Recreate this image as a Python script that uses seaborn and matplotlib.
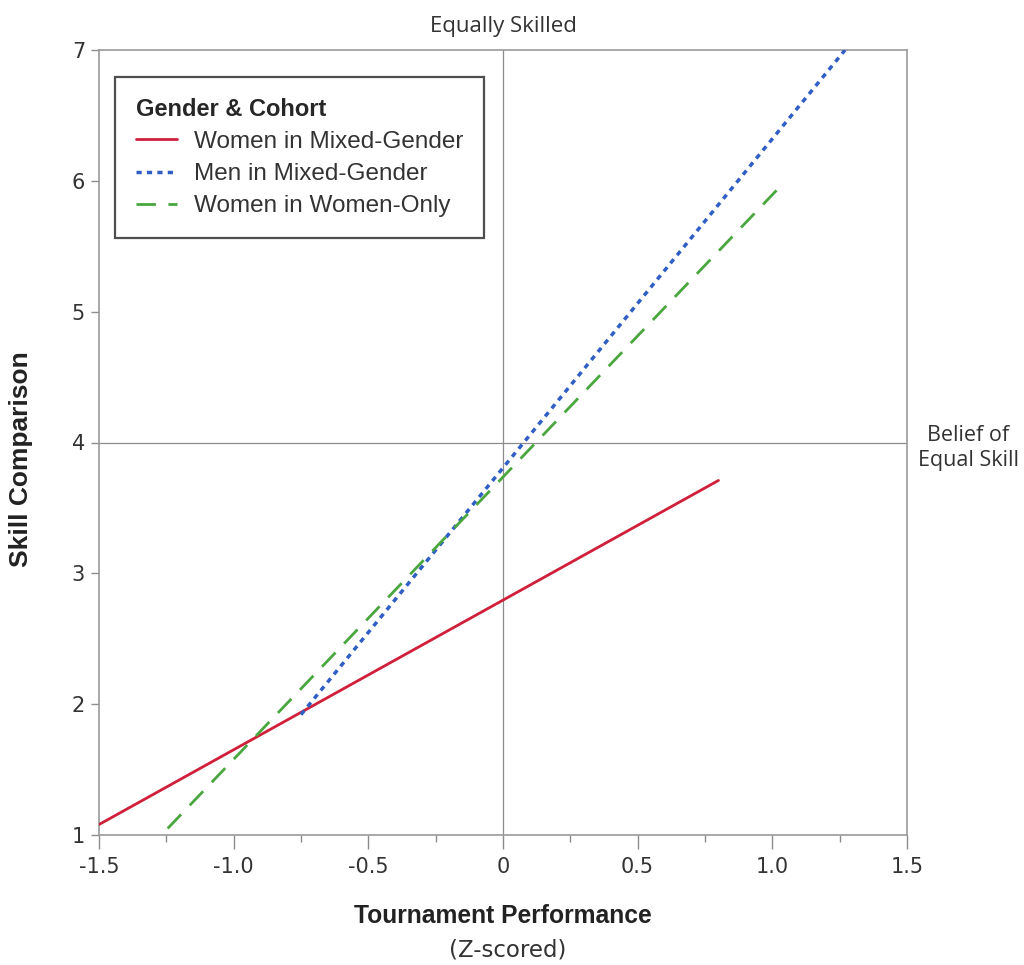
import matplotlib
matplotlib.use("Agg")
import matplotlib.pyplot as plt
import seaborn as sns
import pandas as pd
from matplotlib.lines import Line2D

sns.set_theme(style="white")
plt.rcParams['font.family'] = ['Liberation Sans', 'DejaVu Sans']

# Data (fitted line endpoints)
series_names = ["Women in Mixed-Gender", "Men in Mixed-Gender", "Women in Women-Only"]
women_mixed_x = [-1.5, 0.8]
women_mixed_y = [1.08, 3.71]
men_mixed_x = [-0.75, 1.27]
men_mixed_y = [1.92, 7.0]
women_only_x = [-1.245, 1.04]
women_only_y = [1.05, 5.98]

x_ticks = [-1.5, -1.0, -0.5, 0, 0.5, 1.0, 1.5]
x_tick_labels = ["-1.5", "-1.0", "-0.5", "0", "0.5", "1.0", "1.5"]
y_ticks = [1, 2, 3, 4, 5, 6, 7]

colors = ["#cf1f3a", "#2f5fc4", "#4aa63f"]
styles = ["-", (0, (1.5, 1.5)), (0, (7, 4.5))]
widths = [2.0, 2.5, 2.0]

fig = plt.figure(figsize=(10.24, 9.65), dpi=100)
ax = fig.add_axes([99/1024, 1-835/965, (907-99)/1024, (835-50)/965])

# reference lines
ax.axvline(0, color="#8c8c8c", lw=0.9, zorder=1)
ax.axhline(4, color="#8c8c8c", lw=0.9, zorder=1)

data = [(women_mixed_x, women_mixed_y), (men_mixed_x, men_mixed_y), (women_only_x, women_only_y)]
for name, (xs, ys), c, ls, lw in zip(series_names, data, colors, styles, widths):
    df = pd.DataFrame({"x": xs, "y": ys})
    sns.lineplot(data=df, x="x", y="y", ax=ax, color=c, lw=lw, zorder=3)
    ax.lines[-1].set_linestyle(ls)

ax.set_xlim(-1.5, 1.5)
ax.set_ylim(1, 7)
ax.set_xticks(x_ticks)
ax.set_xticklabels(x_tick_labels)
ax.set_xticks([-1.25, -0.75, -0.25, 0.25, 0.75, 1.25], minor=True)
ax.set_yticks(y_ticks)
ax.tick_params(axis="x", which="major", direction="out", length=10, width=1, color="#8c8c8c",
               labelsize=15, labelcolor="#333333", pad=6, bottom=True)
ax.tick_params(axis="x", which="minor", direction="out", length=5, width=1, color="#8c8c8c", bottom=True)
ax.tick_params(axis="y", which="major", direction="out", length=6, width=1, color="#8c8c8c",
               labelsize=15, labelcolor="#333333", pad=4, left=True)
for lab in ax.get_xticklabels() + ax.get_yticklabels():
    lab.set_family(["DejaVu Sans"])
for s in ax.spines.values():
    s.set_color("#9a9a9a")
    s.set_linewidth(1.2)

ax.set_xlabel("")
ax.set_ylabel("")
fig.text(21/1024, 1-459/965, "Skill Comparison", ha="center", va="center", rotation=90,
         fontsize=19, fontweight="bold", color="#222222")
fig.text((99+907)/2/1024, 1-916/965, "Tournament Performance", ha="center", va="center",
         fontsize=17.7, fontweight="bold", color="#222222")
fig.text(508/1024, 1-950/965, "(Z-scored)", ha="center", va="center",
         fontsize=16.5, family=["DejaVu Sans"], color="#333333")

ax.text(0, 7.1, "Equally Skilled", ha="center", va="bottom", fontsize=16,
        family=["Open Sans", "DejaVu Sans"], color="#333333")
fig.text(968/1024, 1-448/965, "Belief of\nEqual Skill", ha="center", va="center", fontsize=15.5,
         family=["Open Sans", "DejaVu Sans"], color="#333333", linespacing=1.3)

handles = [Line2D([0], [0], color=c, ls=ls, lw=lw) for c, ls, lw in zip(colors, styles, widths)]
leg = ax.legend(handles, series_names, title="Gender & Cohort", loc="upper left",
                bbox_to_anchor=(16/808, 1-27/785), fontsize=17.5, title_fontsize=17,
                frameon=True, fancybox=False, edgecolor="#222222", handlelength=1.7,
                borderpad=0.85, labelspacing=0.42, handletextpad=0.7, borderaxespad=0)
leg.get_title().set_fontweight("bold")
leg._legend_box.align = "left"
leg.get_frame().set_linewidth(1.6)
for t in leg.get_texts():
    t.set_color("#333333")

fig.savefig("out.png", dpi=100)
